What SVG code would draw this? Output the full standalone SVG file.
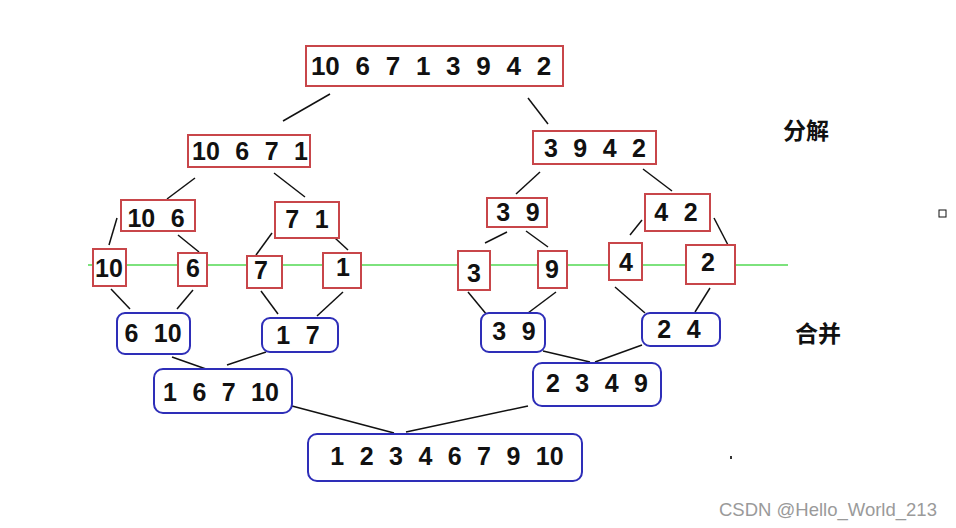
<svg xmlns="http://www.w3.org/2000/svg" width="956" height="528" viewBox="0 0 956 528">
<style>
.bg{fill:#fff}
.r{fill:#fff;stroke:#c8464a;stroke-width:2}
.b{fill:#fff;stroke:#2e2eb8;stroke-width:2}
.t{font-family:"Liberation Sans",Arial,sans-serif;font-weight:bold;font-size:25px;fill:#111;text-anchor:middle;word-spacing:8.5px}
.c{font-family:"Noto Sans CJK SC","Noto Sans",sans-serif;font-weight:bold;font-size:23px;fill:#111;text-anchor:middle}
.w{font-family:"Liberation Sans",Arial,sans-serif;font-size:18.5px;fill:#9a9a9a}
#conn line{stroke:#111;stroke-width:1.5}
</style>
<rect class="bg" x="0" y="0" width="956" height="528"/>

<g id="conn">
<line x1="330" y1="94" x2="283" y2="121"/>
<line x1="528" y1="98" x2="548" y2="124"/>
<line x1="195" y1="178" x2="167" y2="199"/>
<line x1="274" y1="173" x2="305" y2="197"/>
<line x1="117" y1="218" x2="109" y2="245"/>
<line x1="178" y1="235" x2="199" y2="252"/>
<line x1="272" y1="233" x2="256" y2="255"/>
<line x1="335" y1="238" x2="348" y2="250"/>
<line x1="540" y1="172" x2="516" y2="194"/>
<line x1="643" y1="169" x2="672" y2="191"/>
<line x1="507" y1="232" x2="485" y2="243"/>
<line x1="526" y1="231" x2="548" y2="247"/>
<line x1="642" y1="220" x2="630" y2="235"/>
<line x1="714" y1="218" x2="728" y2="245"/>
<line x1="111" y1="289" x2="130" y2="309"/>
<line x1="193" y1="290" x2="177" y2="309"/>
<line x1="261" y1="291" x2="278" y2="314"/>
<line x1="343" y1="292" x2="317" y2="316"/>
<line x1="468" y1="292" x2="487" y2="315"/>
<line x1="556" y1="292" x2="528" y2="313"/>
<line x1="615" y1="287" x2="645" y2="313"/>
<line x1="710" y1="288" x2="695" y2="312"/>
<line x1="172" y1="357" x2="206" y2="369"/>
<line x1="266" y1="352" x2="227" y2="365"/>
<line x1="543" y1="351" x2="590" y2="362"/>
<line x1="642" y1="345" x2="595" y2="362"/>
<line x1="292" y1="406" x2="394" y2="433"/>
<line x1="528" y1="406" x2="406" y2="432"/>
</g>

<line x1="88" y1="265" x2="788" y2="265" stroke="#52d852" stroke-width="1.6"/>

<g id="n0"><rect class="r" x="306" y="46" width="257" height="40"/><text class="t" x="431" y="75" style="font-size:26px">10 6 7 1 3 9 4 2</text></g>

<g id="n1"><rect class="r" x="188" y="135" width="122" height="32"/><text class="t" x="250" y="160">10 6 7 1</text></g>
<g id="n2"><rect class="r" x="533" y="131" width="123" height="33"/><text class="t" x="595" y="157">3 9 4 2</text></g>

<g id="n3"><rect class="r" x="121" y="200" width="74" height="31"/><text class="t" x="156" y="227">10 6</text></g>
<g id="n4"><rect class="r" x="275" y="202" width="64" height="36"/><text class="t" x="307" y="228">7 1</text></g>
<g id="n5"><rect class="r" x="487" y="198" width="60" height="29"/><text class="t" x="518" y="221">3 9</text></g>
<g id="n6"><rect class="r" x="645" y="194" width="65" height="37"/><text class="t" x="676" y="221">4 2</text></g>

<g id="n7"><rect class="r" x="93" y="249" width="33" height="37"/><text class="t" x="109" y="277">10</text></g>
<g id="n8"><rect class="r" x="178" y="253" width="29" height="33"/><text class="t" x="193" y="277">6</text></g>
<g id="n9"><rect class="r" x="247" y="256" width="35" height="32"/><text class="t" x="261" y="279">7</text></g>
<g id="n10"><rect class="r" x="323" y="253" width="38" height="35"/><text class="t" x="343" y="276">1</text></g>
<g id="n11"><rect class="r" x="458" y="251" width="32" height="39"/><text class="t" x="474" y="282">3</text></g>
<g id="n12"><rect class="r" x="538" y="251" width="29" height="37"/><text class="t" x="552" y="278">9</text></g>
<g id="n13"><rect class="r" x="609" y="243" width="33" height="37"/><text class="t" x="626" y="271">4</text></g>
<g id="n14"><rect class="r" x="686" y="245" width="49" height="39"/><text class="t" x="708" y="271">2</text></g>

<g id="m1"><rect class="b" x="117" y="313" width="73" height="41" rx="8"/><text class="t" x="153" y="342">6 10</text></g>
<g id="m2"><rect class="b" x="262" y="318" width="76" height="34" rx="8"/><text class="t" x="298" y="344">1 7</text></g>
<g id="m3"><rect class="b" x="481" y="313" width="64" height="39" rx="8"/><text class="t" x="514" y="340">3 9</text></g>
<g id="m4"><rect class="b" x="642" y="313" width="78" height="33" rx="8"/><text class="t" x="679" y="338">2 4</text></g>

<g id="m5"><rect class="b" x="154" y="369" width="138" height="44" rx="9"/><text class="t" x="221" y="401">1 6 7 10</text></g>
<g id="m6"><rect class="b" x="533" y="363" width="128" height="43" rx="9"/><text class="t" x="597" y="392">2 3 4 9</text></g>

<g id="m7"><rect class="b" x="308" y="434" width="274" height="47" rx="9"/><text class="t" x="447" y="465">1 2 3 4 6 7 9 10</text></g>

<text class="c" x="806" y="139">分解</text>
<text class="c" x="818" y="342">合并</text>

<rect x="939" y="210" width="7" height="7" fill="#fff" stroke="#111" stroke-width="1"/>
<rect x="730" y="456" width="2" height="3" fill="#333"/>

<text class="w" x="719" y="516">CSDN @Hello_World_213</text>
</svg>
